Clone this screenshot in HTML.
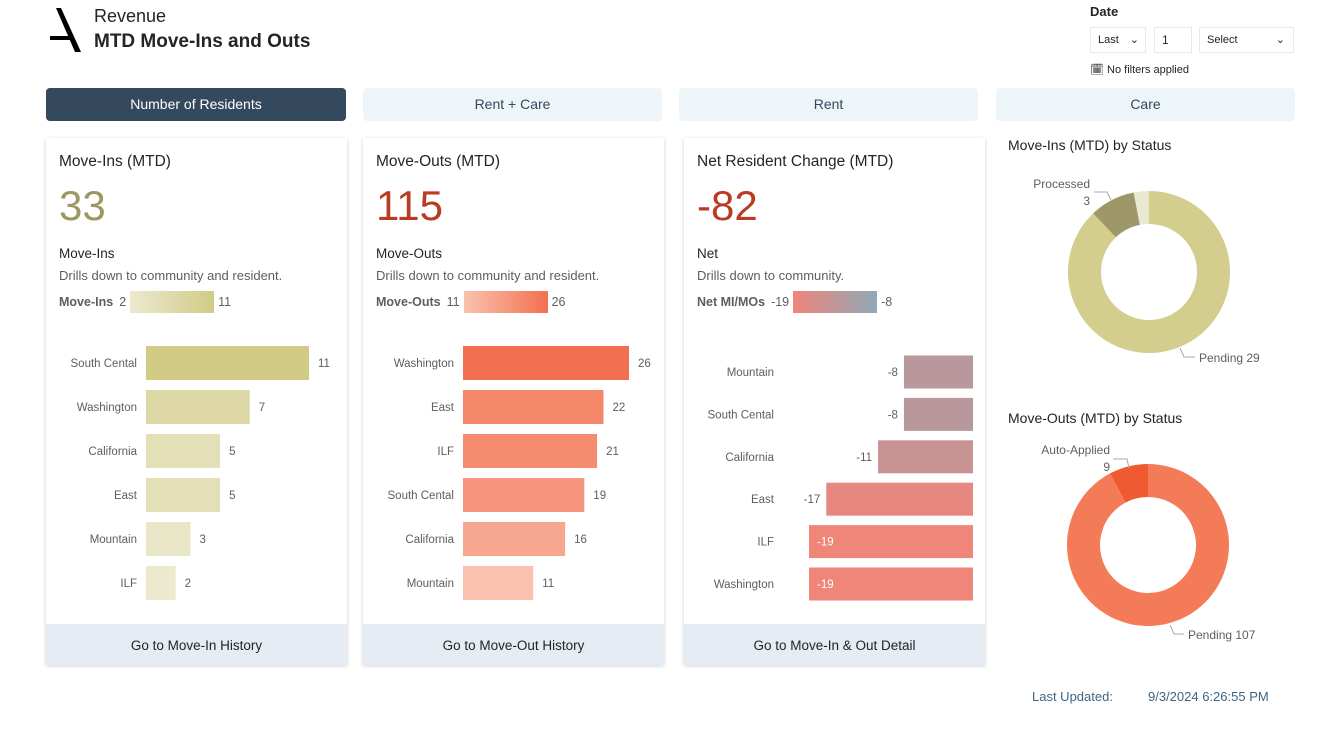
<!DOCTYPE html>
<html><head><meta charset="utf-8">
<style>
*{box-sizing:border-box;margin:0;padding:0}
body{width:1326px;height:743px;background:#fff;font-family:"Liberation Sans",sans-serif;color:#252423;position:relative;overflow:hidden}
.abs{position:absolute}
.tab{position:absolute;top:88px;height:33px;border-radius:4px;background:#eef5f9;color:#34495e;font-size:14px;text-align:center;line-height:33px}
.card{position:absolute;top:138px;height:527px;width:301px;background:#fff;box-shadow:0 1px 4px rgba(0,0,0,.18)}
.foot{position:absolute;left:0;right:0;bottom:0;height:41px;background:#e5ecf3;text-align:center;line-height:43px;font-size:13.5px;color:#252423}
.ct{position:absolute;left:13px;top:15px;font-size:15.5px}
.big{position:absolute;left:13px;top:44px;font-size:42px}
.sub{position:absolute;left:13px;top:108px;font-size:13.5px}
.desc{position:absolute;left:13px;top:130px;font-size:13px;color:#605e5c}
.leg{position:absolute;left:13px;top:153px;font-size:12.5px;color:#605e5c;display:flex;align-items:center;height:22px}
.leg b{color:#605e5c;margin-right:6px}
.leg i{display:inline-block;width:84px;height:22px;margin:0 4px}
.dd{position:absolute;top:27px;height:26px;border:1px solid #e8e8e8;font-size:11px;line-height:24px;padding-left:7px}
svg text{font-family:"Liberation Sans",sans-serif}
</style></head><body>
<svg class="abs" style="left:50px;top:7px" width="34" height="45"><path d="M6 1 L11 1 L31 45 L25 45 Z" fill="#000"/><rect x="0" y="29" width="20" height="4" fill="#000"/></svg>
<div class="abs" style="left:94px;top:6px;font-size:18px">Revenue</div>
<div class="abs" style="left:94px;top:31px;font-size:19px;font-weight:bold">MTD Move-Ins and Outs</div>

<div class="abs" style="left:1090px;top:4px;font-size:13px;font-weight:bold">Date</div>
<div class="dd" style="left:1090px;width:56px">Last <span style="position:absolute;right:6px">⌄</span></div>
<div class="dd" style="left:1154px;width:38px;font-size:12px">1</div>
<div class="dd" style="left:1199px;width:95px">Select <span style="position:absolute;right:8px">⌄</span></div>
<div class="abs" style="left:1090px;top:63px;font-size:11px">🗓 No filters applied</div>

<div class="tab" style="left:46px;width:300px;background:#34495e;color:#fff">Number of Residents</div>
<div class="tab" style="left:363px;width:299px">Rent + Care</div>
<div class="tab" style="left:679px;width:299px">Rent</div>
<div class="tab" style="left:996px;width:299px">Care</div>

<div class="card" style="left:46px">
<div class="ct">Move-Ins (MTD)</div>
<div class="big" style="color:#9e9762">33</div>
<div class="sub">Move-Ins</div>
<div class="desc">Drills down to community and resident.</div>
<div class="leg"><b>Move-Ins</b>2<i style="background:linear-gradient(90deg,#ece9cf,#d1cb85)"></i>11</div>
<svg id="c1" class="abs" style="left:0;top:190px" width="301" height="290"></svg>
<div class="foot">Go to Move-In History</div>
</div>
<div class="card" style="left:363px">
<div class="ct">Move-Outs (MTD)</div>
<div class="big" style="color:#b83b22">115</div>
<div class="sub">Move-Outs</div>
<div class="desc">Drills down to community and resident.</div>
<div class="leg"><b>Move-Outs</b>11<i style="background:linear-gradient(90deg,#fac2ae,#f27050)"></i>26</div>
<svg id="c2" class="abs" style="left:0;top:190px" width="301" height="290"></svg>
<div class="foot">Go to Move-Out History</div>
</div>
<div class="card" style="left:684px">
<div class="ct">Net Resident Change (MTD)</div>
<div class="big" style="color:#b83b22">-82</div>
<div class="sub">Net</div>
<div class="desc">Drills down to community.</div>
<div class="leg"><b>Net MI/MOs</b>-19<i style="background:linear-gradient(90deg,#f0857a,#8fa8b8)"></i>-8</div>
<svg id="c3" class="abs" style="left:0;top:190px" width="301" height="290"></svg>
<div class="foot">Go to Move-In &amp; Out Detail</div>
</div>

<div class="abs" style="left:1008px;top:137px;font-size:14px">Move-Ins (MTD) by Status</div>
<svg id="d1" class="abs" style="left:1000px;top:170px" width="326" height="210"></svg>
<div class="abs" style="left:1008px;top:410px;font-size:14px">Move-Outs (MTD) by Status</div>
<svg id="d2" class="abs" style="left:1000px;top:440px" width="326" height="210"></svg>

<div class="abs" style="left:1032px;top:689px;font-size:13px;color:#3f6583">Last Updated:</div>
<div class="abs" style="left:1148px;top:689px;font-size:13px;color:#3f6583">9/3/2024 6:26:55 PM</div>

<script>
const NS='http://www.w3.org/2000/svg';
const miCats=['South Cental','Washington','California','East','Mountain','ILF'];
const miVals=[11,7,5,5,3,2];
const moCats=['Washington','East','ILF','South Cental','California','Mountain'];
const moVals=[26,22,21,19,16,11];
const netCats=['Mountain','South Cental','California','East','ILF','Washington'];
const netVals=[-8,-8,-11,-17,-19,-19];
const d1Labels=['Pending','Processed','Other'];
const d1Vals=[29,3,1];
const d2Labels=['Pending','Auto-Applied'];
const d2Vals=[107,9];

function mk(p,t,a){const e=document.createElementNS(NS,t);for(const k in a)e.setAttribute(k,a[k]);p.appendChild(e);return e;}
function mix(c1,c2,t){const h=s=>[1,3,5].map(i=>parseInt(s.substr(i,2),16));const a=h(c1),b=h(c2);return 'rgb('+a.map((v,i)=>Math.round(v+(b[i]-v)*t)).join(',')+')';}

function hbar(id,cats,vals,x0,maxW,c0,c1,y0,step,bh){
  const svg=document.getElementById(id);
  const mx=Math.max(...vals),mn=Math.min(...vals);
  const xs=v=>v/mx*maxW;
  cats.forEach((c,i)=>{
    const yc=y0+i*step;
    const l=mk(svg,'text',{x:x0-9,y:yc+4,'text-anchor':'end','font-size':11.5,fill:'#605e5c'});l.textContent=c;
    
    
    const r=mk(svg,'rect',{x:x0,y:yc-bh/2,width:xs(vals[i]),height:bh,fill:mix(c0,c1,(vals[i]-mn)/(mx-mn||1))});
    
    
    const t=mk(svg,'text',{x:x0+xs(vals[i])+9,y:yc+4,'font-size':11.5,fill:'#605e5c'});t.textContent=vals[i];
    
    
  });
}
hbar('c1',miCats,miVals,100,163,'#ece9cf','#d1cb85',35,44,34);
hbar('c2',moCats,moVals,100,166,'#fac2ae','#f27050',35,44,34);

(function(){
  const svg=document.getElementById('c3');
  const right=289,scale=164/19,y0=44,step=42.4,bh=33;
  const mn=Math.min(...netVals),mx=Math.max(...netVals);
  netCats.forEach((c,i)=>{
    const yc=y0+i*step,w=-netVals[i]*scale;
    const l=mk(svg,'text',{x:90,y:yc+4,'text-anchor':'end','font-size':11.5,fill:'#605e5c'});l.textContent=c;
    
    
    const r=mk(svg,'rect',{x:right-w,y:yc-bh/2,width:w,height:bh,fill:mix('#f0857a','#b8989c',(netVals[i]-mn)/(mx-mn||1))});
    
    
    const inside=w>150;
    const t=mk(svg,'text',{x:inside?right-w+8:right-w-6,y:yc+4,'text-anchor':inside?'start':'end','font-size':11.5,fill:inside?'#fff':'#605e5c'});t.textContent=netVals[i];
    
    
  });
})();

function donut(id,vals,cols,cx,cy,R,r){
  const svg=document.getElementById(id);const tot=vals.reduce((a,b)=>a+b,0);let a=0;
  const pt=(ang,rad)=>[cx+rad*Math.sin(ang),cy-rad*Math.cos(ang)];
  vals.forEach((v,i)=>{
    const a0=a,a1=a+v/tot*2*Math.PI;a=a1;
    const lg=(a1-a0)>Math.PI?1:0;
    const [x0,y0]=pt(a0,R),[x1,y1]=pt(a1,R),[x2,y2]=pt(a1,r),[x3,y3]=pt(a0,r);
    const p=mk(svg,'path',{d:`M${x0} ${y0}A${R} ${R} 0 ${lg} 1 ${x1} ${y1}L${x2} ${y2}A${r} ${r} 0 ${lg} 0 ${x3} ${y3}Z`,fill:cols[i]});
    
    
  });
}
donut('d1',d1Vals,['#d3cd8e','#9e9868','#ebe8d2'],149,102,81,48);
donut('d2',d2Vals,['#f37b58','#ef5a30'],148,105,81,48);
function lab(id,x,y,txt,anchor){const t=mk(document.getElementById(id),'text',{x:x,y:y,'font-size':12,fill:'#605e5c','text-anchor':anchor||'start'});t.textContent=txt;

}
function ln(id,d){mk(document.getElementById(id),'path',{d:d,stroke:'#aaa',fill:'none'});}
lab('d1',90,18,'Processed','end');lab('d1',90,35,d1Vals[1],'end');
ln('d1','M94 22 L107 22 L111 30');
lab('d1',199,192,d2Labels[0]+' '+d1Vals[0]);ln('d1','M180 178 L184 187 L195 187');
lab('d2',110,14,'Auto-Applied','end');lab('d2',110,31,d2Vals[1],'end');
ln('d2','M113 19 L127 19 L129 28');
lab('d2',188,199,'Pending '+d2Vals[0]);ln('d2','M170 185 L174 194 L184 194');
</script>
</body></html>
